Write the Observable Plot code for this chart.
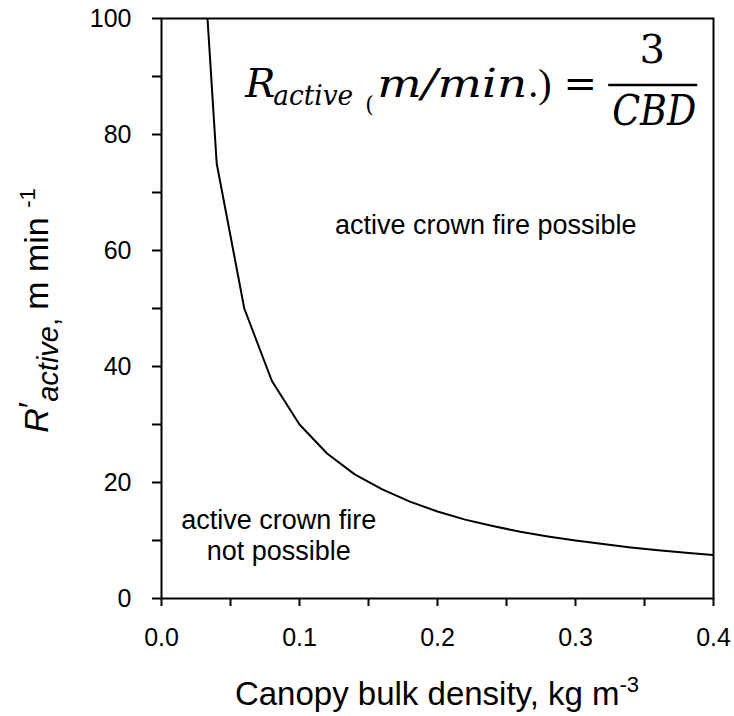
<!DOCTYPE html>
<html><head><meta charset="utf-8">
<script src="https://cdn.jsdelivr.net/npm/d3@7"></script>
<script src="https://cdn.jsdelivr.net/npm/@observablehq/plot@0.6"></script>
<style>body{margin:0;background:#fff}</style>
</head><body><div id="chart"></div>
<script>
// Data
const cbd  = [0.02,0.04,0.06,0.08,0.10,0.12,0.14,0.16,0.18,0.20,0.22,0.24,0.26,0.28,0.30,0.32,0.34,0.36,0.38,0.40];
const rate = [150,75,50,37.5,30,25,21.4,18.8,16.7,15,13.6,12.5,11.5,10.7,10,9.4,8.8,8.3,7.9,7.5];
const xTicks = [0,0.1,0.2,0.3,0.4];
const xMinor = [0.05,0.15,0.25,0.35];
const yTicks = [0,20,40,60,80,100];
const yMinor = [10,30,50,70,90];
const regionText = ["active crown fire possible","active crown fire\nnot possible"];
const regionX = [0.235, 0.085];
const regionY = [64.5, 11.0];

const data = cbd.map((c,i)=>({cbd:c, rate:rate[i]}));
const labels = regionText.map((t,i)=>({text:t, x:regionX[i], y:regionY[i]}));

const plot = Plot.plot({
  width:734, height:716,
  marginLeft:161, marginRight:21, marginTop:18, marginBottom:118,
  style:{fontFamily:"'Liberation Sans', Arial, Helvetica, sans-serif", background:"#fff", color:"#000"},
  x:{domain:[0,0.4]},
  y:{domain:[0,100]},
  marks:[
    Plot.line(data,{x:"cbd", y:"rate", stroke:"#000", strokeWidth:2, clip:true}),
    Plot.frame({stroke:"#000", strokeWidth:2}),
    Plot.axisX({ticks:xTicks, tickFormat:d3.format(".1f"), tickSize:8, tickPadding:22, strokeWidth:2, fontSize:25, label:null}),
    Plot.axisX({ticks:xMinor, tickFormat:()=>"", tickSize:8, strokeWidth:2, label:null}),
    Plot.axisY({ticks:yTicks, tickSize:9, tickPadding:21, strokeWidth:2, fontSize:25, label:null}),
    Plot.axisY({ticks:yMinor, tickFormat:()=>"", tickSize:9, strokeWidth:2, label:null}),
    Plot.text(labels,{x:"x", y:"y", text:"text", fontSize:27, lineHeight:1.15, fill:"#000"})
  ]
});

const svg = d3.select(plot);
const sx = plot.scale("x"), sy = plot.scale("y");
const X = v => sx.apply(v), Y = v => sy.apply(v);
const sans = "'Liberation Sans', Arial, Helvetica, sans-serif";

// x-axis title
const xt = svg.append("text")
  .attr("x",(X(0)+X(0.4))/2).attr("y",Y(0)+107)
  .attr("text-anchor","middle").attr("font-family",sans).attr("font-size",33).attr("fill","#000");
xt.append("tspan").text("Canopy bulk density, kg m");
xt.append("tspan").attr("font-size",22).attr("dy",-13).text("-3");

// y-axis title
const yt = svg.append("text")
  .attr("transform",`translate(48,${Y(28.5)}) rotate(-90)`)
  .attr("text-anchor","start")
  .attr("font-family",sans).attr("font-size",34).attr("fill","#000");
yt.append("tspan").attr("font-style","italic").text("R");
yt.append("tspan").attr("dy",-6).text("\u2032");
yt.append("tspan").attr("font-style","italic").attr("font-size",29).attr("dy",16).text("active");
yt.append("tspan").attr("font-size",29).text(", ");
yt.append("tspan").attr("dy",-10).text("m min ");
yt.append("tspan").attr("font-size",22).attr("dy",-13).text("-1");

// equation
const ax = X(0.061), ay = Y(86.4);
const serif = "'DejaVu Serif', 'Liberation Serif', serif";
const eq = svg.append("g").attr("font-family",serif).attr("fill","#000").attr("text-anchor","start");
eq.append("text").attr("x",ax).attr("y",ay).attr("font-size",40).attr("font-style","italic").text("R");
eq.append("text").attr("x",ax+28).attr("y",ay+8).attr("font-size",27).attr("font-style","italic")
  .attr("textLength",80).attr("lengthAdjust","spacingAndGlyphs").text("active");
eq.append("text").attr("x",ax+120).attr("y",ay+15).attr("font-size",22).text("(");
eq.append("text").attr("x",ax+132).attr("y",ay).attr("font-size",40).attr("font-style","italic")
  .attr("textLength",150).attr("lengthAdjust","spacingAndGlyphs").text("m/min");
eq.append("text").attr("x",ax+283).attr("y",ay).attr("font-size",40)
  .attr("font-family","'Liberation Serif', serif").text(".)");
eq.append("text").attr("x",ax+335).attr("y",ay).attr("font-size",40).attr("text-anchor","middle").text("=");
eq.append("text").attr("x",ax+407).attr("y",ay-34).attr("font-size",40).attr("text-anchor","middle").text("3");
eq.append("line").attr("x1",ax+363).attr("x2",ax+452).attr("y1",ay-12).attr("y2",ay-12)
  .attr("stroke","#000").attr("stroke-width",2.5);
eq.append("text").attr("x",ax+409).attr("y",ay+28).attr("font-size",42).attr("font-style","italic")
  .attr("text-anchor","middle").attr("textLength",84).attr("lengthAdjust","spacingAndGlyphs").text("CBD");

document.getElementById("chart").appendChild(plot);
</script>
</body></html>
